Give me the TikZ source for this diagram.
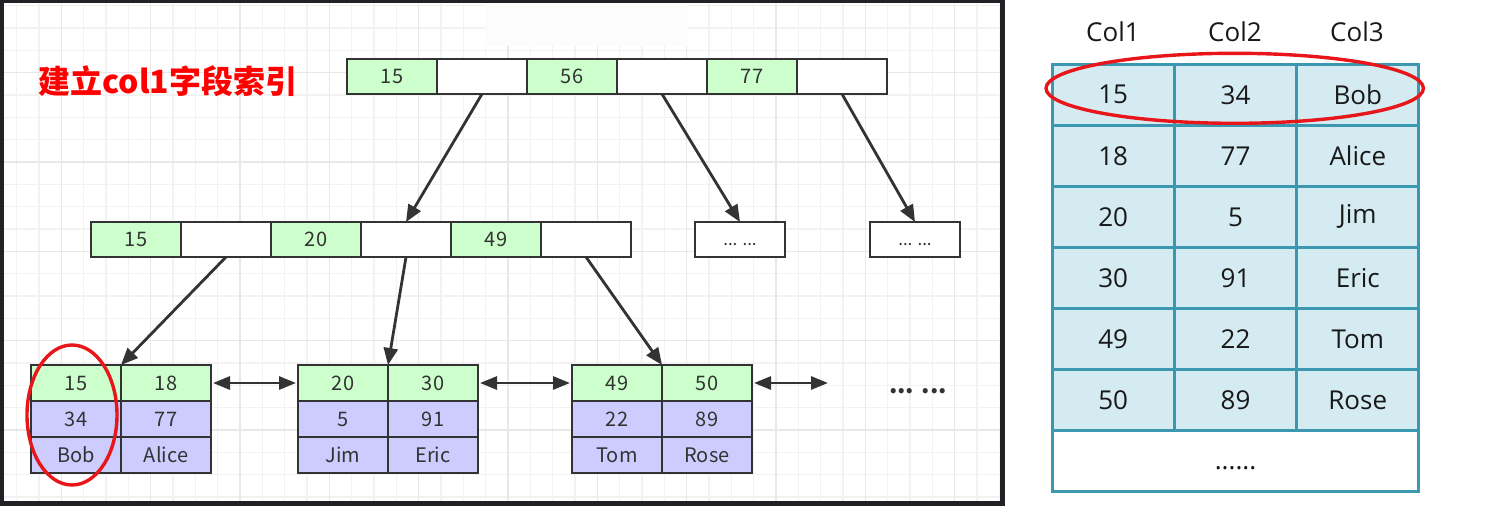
\documentclass[tikz,border=0pt]{standalone}
\usepackage{fontspec}
\setmainfont{Noto Sans CJK SC}
\newfontfamily\tablefont{Open Sans}
\usepackage{tikz}
\usetikzlibrary{arrows.meta,positioning}

\definecolor{keygreen}{HTML}{CCFFCC}
\definecolor{rowpurple}{HTML}{CCCCFF}
\definecolor{cellline}{HTML}{333333}
\definecolor{tblue}{HTML}{D4EBF1}
\definecolor{tline}{HTML}{3C97B0}
\definecolor{ringred}{HTML}{E8161A}
\definecolor{gridminor}{HTML}{F2F2F2}
\definecolor{gridmajor}{HTML}{E8E8E8}
\definecolor{framedark}{HTML}{222226}

\tikzset{
  cell/.style={draw=cellline, line width=2.7pt, minimum width=90pt, minimum height=35pt,
    inner sep=0pt, outer sep=0pt, text=cellline, font=\fontsize{20}{20}\selectfont},
  keycell/.style={cell, fill=keygreen},
  ptrcell/.style={cell, fill=white},
  leafkey/.style={cell, fill=keygreen, minimum height=36pt},
  rowcell/.style={cell, fill=rowpurple, minimum height=36pt},
  link/.style={draw=cellline, line width=2.8pt, -{Triangle[length=17pt,width=14pt]}},
  dlink/.style={link, {Triangle[length=17pt,width=13pt]}-{Triangle[length=17pt,width=13pt]}},
  tcell/.style={draw=tline, line width=3pt, fill=tblue, minimum width=122.3pt,
    minimum height=61pt, inner sep=0pt, outer sep=0pt, text=black!90,
    font=\tablefont\fontsize{26}{26}\selectfont},
  ring/.style={draw=ringred, line width=3.4pt}
}

\begin{document}
\begin{tikzpicture}[x=1pt,y=-1pt]
\useasboundingbox (0,0) rectangle (1500,506);
\fill[white] (0,0) rectangle (1500,506);
\fill[framedark] (0,0) rectangle (1004.5,506);
\fill[white] (4,3) rectangle (999.5,500.5);
\begin{scope}
\clip (4,3) rectangle (999.5,500.5);
\foreach \k in {0,...,45} \draw[gridminor, line width=1.2pt] ({-5.6+22.33*\k},0) -- ++(0,506);
\foreach \k in {0,...,23} \draw[gridminor, line width=1.2pt] (0,{5.67+22.33*\k}) -- ++(1005,0);
\foreach \k in {0,...,11} \draw[gridmajor, line width=1.4pt] ({-28+89.33*\k},0) -- ++(0,506);
\foreach \k in {0,...,6} \draw[gridmajor, line width=1.4pt] (0,{-16.66+89.33*\k}) -- ++(1005,0);
\fill[white!99!black] (485,3) rectangle (688,46);
\end{scope}

\node[text=red, font=\fontsize{32}{32}\selectfont\bfseries] (title) at (168,81) {建立col1字段索引};

\node[keycell] (t1) at (392,76.5) {15};
\node[ptrcell, right=0pt of t1] (t2) {};
\node[keycell, right=0pt of t2] (t3) {56};
\node[ptrcell, right=0pt of t3] (t4) {};
\node[keycell, right=0pt of t4] (t5) {77};
\node[ptrcell, right=0pt of t5] (t6) {};

\node[keycell] (m1) at (136,239.5) {15};
\node[ptrcell, right=0pt of m1] (m2) {};
\node[keycell, right=0pt of m2] (m3) {20};
\node[ptrcell, right=0pt of m3] (m4) {};
\node[keycell, right=0pt of m4] (m5) {49};
\node[ptrcell, right=0pt of m5] (m6) {};

\node[ptrcell, font=\fontsize{17}{17}\selectfont, text height=11pt, text depth=0pt] (d1) at (740,239.5) {... ...};
\node[ptrcell, font=\fontsize{17}{17}\selectfont, text height=11pt, text depth=0pt] (d2) at (915,239.5) {... ...};

\node[leafkey] (a1) at (76,383) {15};
\node[leafkey, right=0pt of a1] (a2) {18};
\node[rowcell, below=0pt of a1] (a3) {34};
\node[rowcell, right=0pt of a3] (a4) {77};
\node[rowcell, below=0pt of a3] (a5) {Bob};
\node[rowcell, right=0pt of a5] (a6) {Alice};

\node[leafkey] (b1) at (343,383) {20};
\node[leafkey, right=0pt of b1] (b2) {30};
\node[rowcell, below=0pt of b1] (b3) {5};
\node[rowcell, right=0pt of b3] (b4) {91};
\node[rowcell, below=0pt of b3] (b5) {Jim};
\node[rowcell, right=0pt of b5] (b6) {Eric};

\node[leafkey] (c1) at (617,383) {49};
\node[leafkey, right=0pt of c1] (c2) {50};
\node[rowcell, below=0pt of c1] (c3) {22};
\node[rowcell, right=0pt of c3] (c4) {89};
\node[rowcell, below=0pt of c3] (c5) {Tom};
\node[rowcell, right=0pt of c5] (c6) {Rose};

\draw[link] (t2.south) -- (m4.north);
\draw[link] (t4.south) -- (d1.north);
\draw[link] (t6.south) -- (d2.north);
\draw[link] (m2.south) -- (a1.north east);
\draw[link] (m4.south) -- (b1.north east);
\draw[link] (m6.south) -- (c1.north east);

\coordinate (more) at (828,383);
\draw[dlink] ([xshift=2pt]a2.east) -- ([xshift=-2pt]b1.west);
\draw[dlink] ([xshift=2pt]b2.east) -- ([xshift=-2pt]c1.west);
\draw[dlink] ([xshift=2pt]c2.east) -- (more);
\node[text=cellline, font=\fontsize{24}{24}\selectfont\bfseries] (etc) at (918,391) {... ...};

\draw[ring] (72,415) ellipse [x radius=45pt, y radius=70pt];

\node[font=\tablefont\fontsize{26}{26}\selectfont, text=black!90] (h1) at (1113,31.7) {Col1};
\node[font=\tablefont\fontsize{26}{26}\selectfont, text=black!90] (h2) at (1235,31.7) {Col2};
\node[font=\tablefont\fontsize{26}{26}\selectfont, text=black!90] (h3) at (1357,31.7) {Col3};

\foreach \a/\b/\c [count=\i] in {15/34/Bob,18/77/Alice,20/5/Jim,30/91/Eric,49/22/Tom,50/89/Rose}{
  \node[tcell] (r\i-1) at (1113.2,{94.8+61.05*(\i-1)}) {\a};
  \node[tcell, right=0pt of r\i-1] (r\i-2) {\b};
  \node[tcell, right=0pt of r\i-2] (r\i-3) {\c};
}
\node[tcell, fill=white, minimum width=366.9pt, text height=16pt, text depth=0pt] (rest) at (1235.5,461.2) {......};

\draw[ring] (1234.7,88.3) ellipse [x radius=188.7pt, y radius=35pt];
\end{tikzpicture}
\end{document}
